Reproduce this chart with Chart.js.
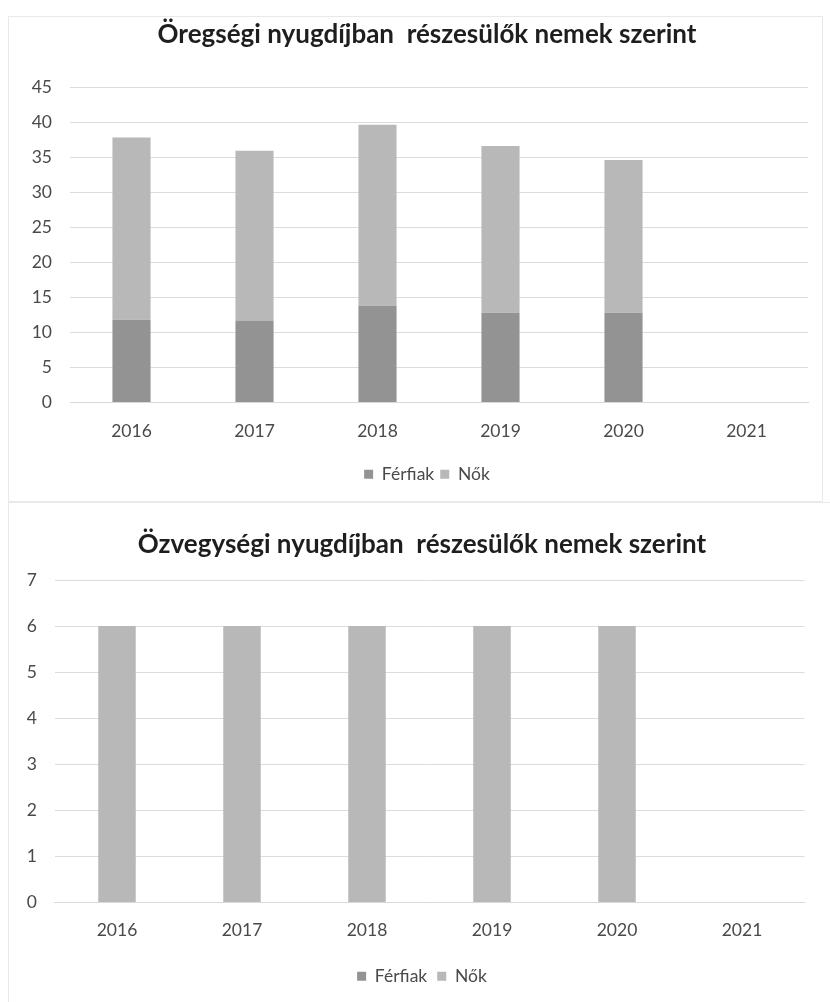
<!DOCTYPE html>
<html>
<head>
<meta charset="utf-8">
<script src="https://cdn.jsdelivr.net/npm/chart.js@4.4.0/dist/chart.umd.min.js"></script>
<style>
  body { margin: 0; background: #fff; overflow: hidden; }
  .box { position: absolute; left: 0; width: 830px; }
  #box1 { top: 0; height: 495px; }
  #box2 { top: 497px; height: 505px; }
  .frame { position: absolute; border: 1px solid #e9e9e9; }
  #frame1 { left: 8px; top: 16px; width: 813px; height: 484px; }
  #frame2 { left: 8px; top: 502px; width: 822px; height: 500px; border-bottom: none; border-right: none; }
</style>
</head>
<body>
<div class="frame" id="frame1"></div>
<div class="frame" id="frame2"></div>
<div class="box" id="box1"><canvas id="oreg"></canvas></div>
<div class="box" id="box2"><canvas id="ozv"></canvas></div>
<script>
const years = ['2016', '2017', '2018', '2019', '2020', '2021'];

// Öregségi nyugdíj
const oregFerfiak = [11.8, 11.7, 13.8, 12.8, 12.8, null];
const oregNok = [26.0, 24.2, 25.8, 23.8, 21.8, null];
const oregTicks = [0, 5, 10, 15, 20, 25, 30, 35, 40, 45];

// Özvegységi nyugdíj
const ozvFerfiak = [0, 0, 0, 0, 0, null];
const ozvNok = [6, 6, 6, 6, 6, null];
const ozvTicks = [0, 1, 2, 3, 4, 5, 6, 7];

const tickFont = { family: 'Lato', size: 17.5 };
const tickColor = '#4a4a4a';

function makeChart(el, title, ferfiak, nok, ticks, o) {
    return new Chart(el, {
        type: 'bar',
        data: {
            labels: years,
            datasets: [
                { label: 'Férfiak', data: ferfiak, backgroundColor: '#939393' },
                { label: 'Nők', data: nok, backgroundColor: '#b8b8b8' }
            ]
        },
        options: {
            responsive: true,
            maintainAspectRatio: false,
            animation: false,
            layout: { padding: { left: o.padLeft, right: o.padRight, top: 0, bottom: o.padBottom } },
            datasets: { bar: { barPercentage: o.barPct, categoryPercentage: 1 } },
            plugins: {
                title: {
                    display: true,
                    text: title,
                    color: '#1e1e1e',
                    font: { family: 'Lato', size: 26, weight: 'bold' },
                    padding: { top: o.titleTop, bottom: o.titleBottom }
                },
                legend: {
                    position: 'bottom',
                    labels: {
                        color: tickColor,
                        font: tickFont,
                        boxWidth: 9,
                        boxHeight: 9,
                        padding: o.legendPad
                    }
                },
                tooltip: { enabled: false }
            },
            scales: {
                x: {
                    stacked: true,
                    grid: { display: false, drawTicks: false },
                    border: { display: true, color: '#d9d9d9' },
                    ticks: { color: tickColor, font: tickFont, padding: o.xPad }
                },
                y: {
                    stacked: true,
                    min: 0,
                    max: ticks[ticks.length - 1],
                    afterBuildTicks: (s) => { s.ticks = ticks.map(v => ({ value: v })); },
                    afterFit: (s) => { s.width = o.axisWidth; },
                    grid: { color: '#dcdcdc', drawTicks: false },
                    border: { display: false },
                    ticks: { color: tickColor, font: tickFont, padding: o.tickPad }
                },
                // empty right-hand axis, only keeps the right margin
                yRight: {
                    position: 'right',
                    grid: { display: false, drawTicks: false },
                    border: { display: false },
                    ticks: { display: false },
                    afterFit: (s) => { s.width = o.rightWidth; }
                }
            }
        }
    });
}

makeChart(document.getElementById('oreg'),
    'Öregségi nyugdíjban  részesülők nemek szerint',
    oregFerfiak, oregNok, oregTicks,
    { padLeft: 24, padRight: 0, padBottom: 2, axisWidth: 46, tickPad: 18, rightWidth: 22,
      titleTop: 19.4, titleBottom: 36.4, xPad: 18, legendPad: 6, barPct: 0.31 });

makeChart(document.getElementById('ozv'),
    'Özvegységi nyugdíjban  részesülők nemek szerint',
    ozvFerfiak, ozvNok, ozvTicks,
    { padLeft: 24.5, padRight: 10.5, padBottom: 7, axisWidth: 30, tickPad: 17.5, rightWidth: 15,
      titleTop: 32.4, titleBottom: 19.4, xPad: 17, legendPad: 10, barPct: 0.30 });
</script>
</body>
</html>
